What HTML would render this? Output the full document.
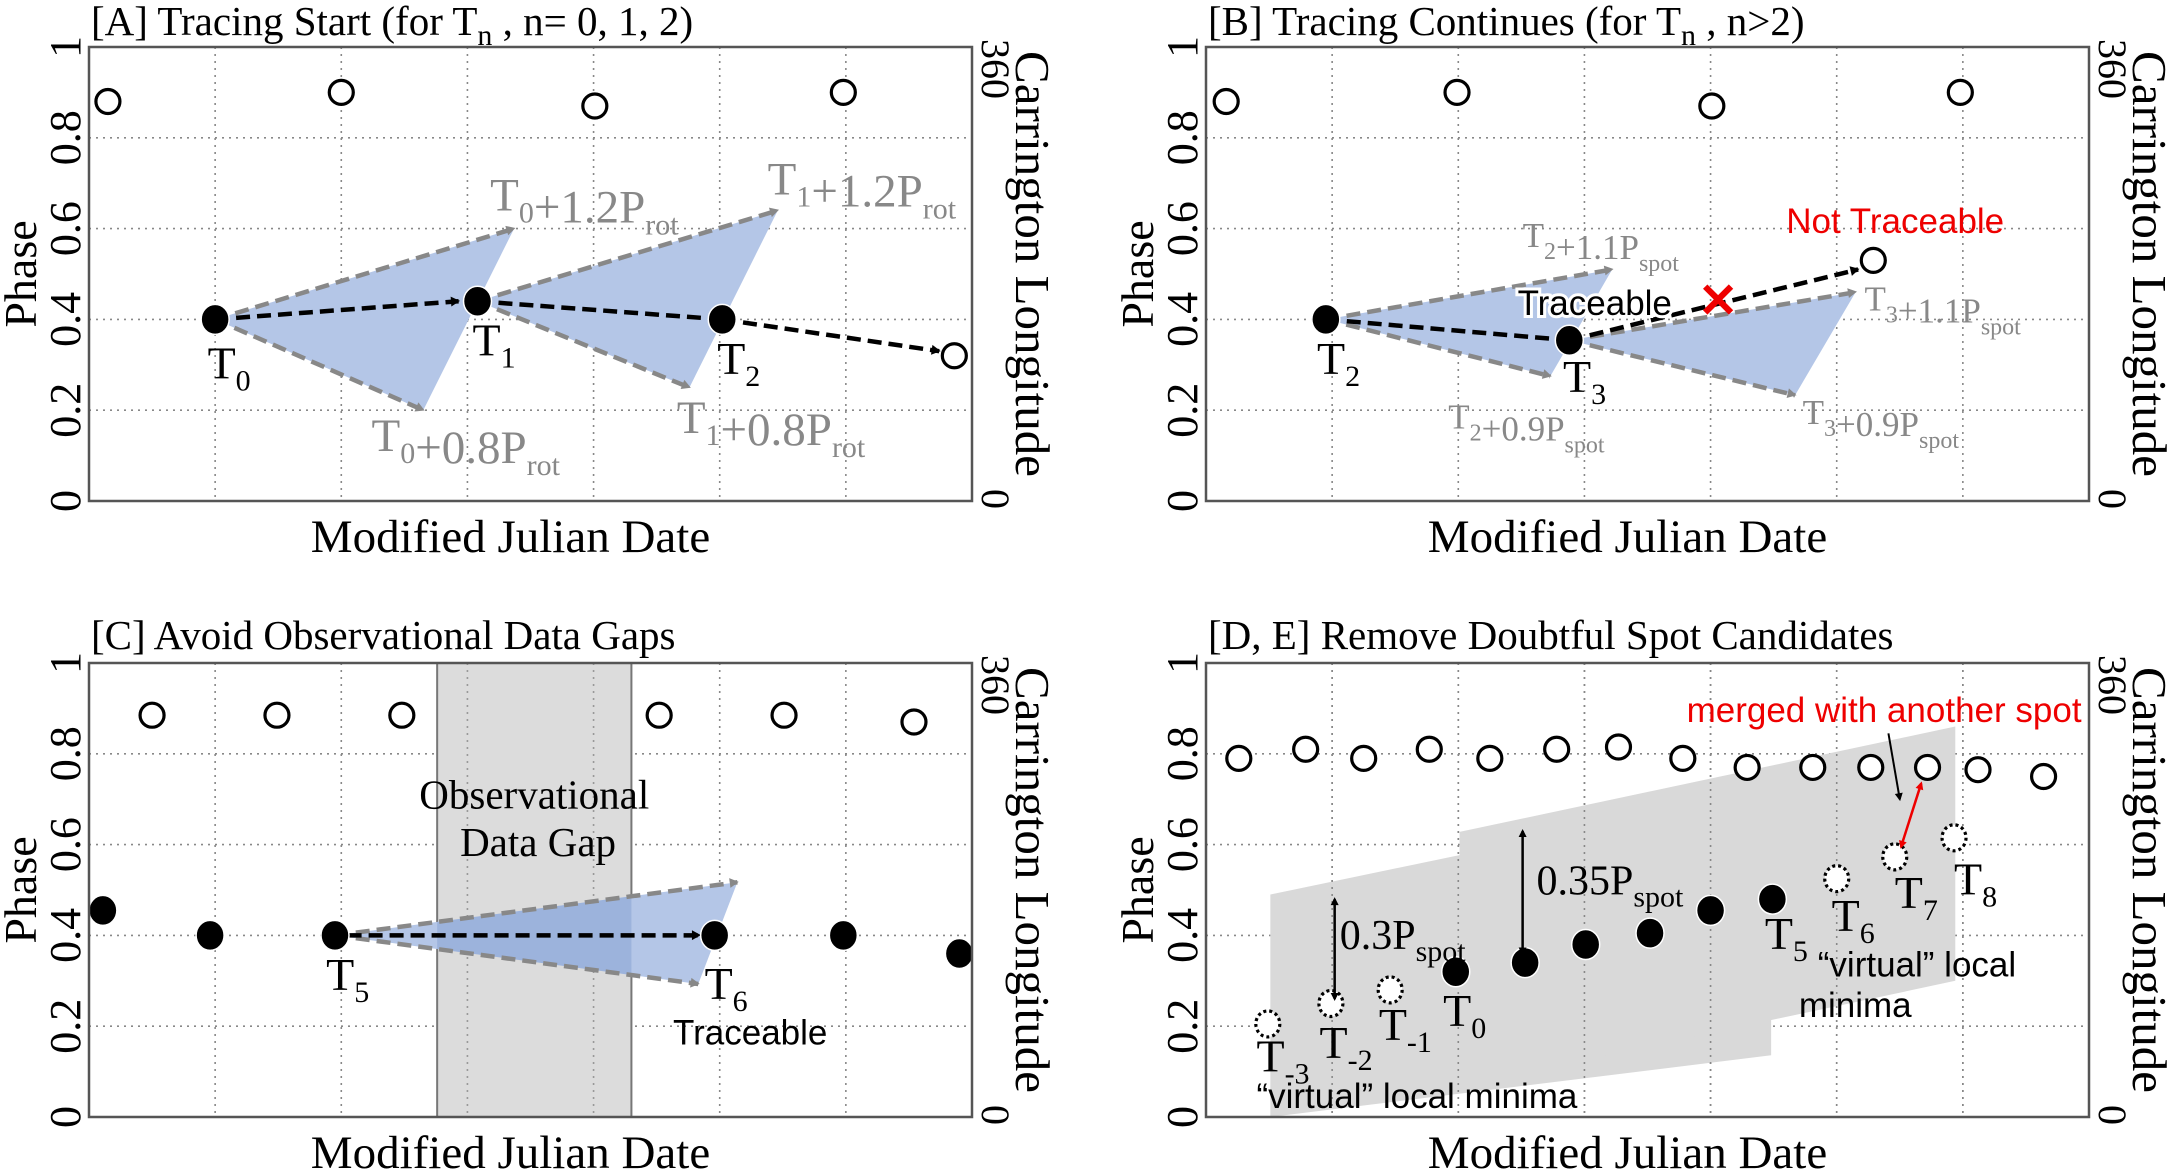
<!DOCTYPE html>
<html><head><meta charset="utf-8"><style>
html,body{margin:0;padding:0;background:#fff;}
svg{display:block;font-family:"Liberation Serif",serif;}
.sans{font-family:"Liberation Sans",sans-serif;}
</style></head><body>
<svg id="fig" width="2170" height="1175" viewBox="0 0 2170 1175" xmlns="http://www.w3.org/2000/svg">
<defs>
<marker id="ag" viewBox="0 0 10 10" refX="8" refY="5" markerWidth="5" markerHeight="5" orient="auto" markerUnits="userSpaceOnUse" style="overflow:visible"><path d="M-8,-6 L12,5 L-8,16 Z" fill="#888" transform="scale(0.9)"/></marker>
<marker id="ak" viewBox="0 0 10 10" refX="8" refY="5" markerWidth="5" markerHeight="5" orient="auto" markerUnits="userSpaceOnUse" style="overflow:visible"><path d="M-8,-6 L12,5 L-8,16 Z" fill="#000" transform="scale(0.9)"/></marker>
<marker id="ak2" viewBox="0 0 10 10" refX="8" refY="5" markerWidth="5" markerHeight="5" orient="auto-start-reverse" markerUnits="userSpaceOnUse" style="overflow:visible"><path d="M-4,-3 L12,5 L-4,13 Z" fill="#000"/></marker>
<marker id="ar2" viewBox="0 0 10 10" refX="8" refY="5" markerWidth="5" markerHeight="5" orient="auto-start-reverse" markerUnits="userSpaceOnUse" style="overflow:visible"><path d="M-4,-3 L12,5 L-4,13 Z" fill="#e00"/></marker>
</defs>
</svg>
<script>
// ---- data (x in grid units 0..7, y in phase 0..1) ----
const yTicks = [0, 0.2, 0.4, 0.6, 0.8, 1];
const yTickLabels = ["0", "0.2", "0.4", "0.6", "0.8", "1"];
const rightTickLabels = ["0", "360"];
const xGrid = [1, 2, 3, 4, 5, 6];

const aOpenX = [0.15, 2.0, 4.01, 5.98, 6.86];
const aOpenY = [0.88, 0.90, 0.87, 0.90, 0.32];
const aFilledX = [1.0, 3.08, 5.02];
const aFilledY = [0.40, 0.44, 0.40];
const aTri1 = [[1.0,0.40],[3.37,0.60],[2.65,0.20]];
const aTri2 = [[3.08,0.44],[5.46,0.64],[4.76,0.25]];

const bOpenX = [0.16, 1.99, 4.01, 5.98, 5.29];
const bOpenY = [0.88, 0.90, 0.87, 0.90, 0.53];
const bFilledX = [0.95, 2.88];
const bFilledY = [0.40, 0.354];
const bTri1 = [[0.95,0.40],[3.22,0.51],[2.73,0.275]];
const bTri2 = [[2.88,0.354],[5.15,0.46],[4.67,0.233]];

const cOpenX = [0.5, 1.49, 2.48, 4.52, 5.51, 6.54];
const cOpenY = [0.885, 0.885, 0.885, 0.885, 0.885, 0.87];
const cFilledX = [0.11, 0.96, 1.95, 4.96, 5.98, 6.9];
const cFilledY = [0.455, 0.40, 0.40, 0.40, 0.40, 0.36];
const cTri = [[1.95,0.40],[5.14,0.517],[4.83,0.293]];
const cGap = [2.76, 4.3];

const dOpenX = [0.26,0.79,1.25,1.77,2.25,2.78,3.27,3.78,4.29,4.81,5.27,5.72,6.12,6.64];
const dOpenY = [0.79,0.81,0.79,0.81,0.79,0.81,0.815,0.79,0.77,0.77,0.77,0.77,0.765,0.75];
const dFilledX = [1.98,2.53,3.01,3.52,4.0,4.49];
const dFilledY = [0.32,0.34,0.38,0.405,0.455,0.48];
const dVirtX = [0.49,0.99,1.46,5.0,5.46,5.93];
const dVirtY = [0.205,0.25,0.28,0.525,0.573,0.615];
const dPoly1 = [[0.51,0.49],[4.48,0.72],[4.48,0.136],[0.51,0]];
const dPoly2 = [[2.01,0.628],[5.94,0.86],[5.94,0.30],[2.01,0.067]];

// ---- helpers ----
const NS = "http://www.w3.org/2000/svg";
const svg = document.getElementById('fig');
function mk(tag, attrs, parent){const e=document.createElementNS(NS,tag);for(const k in attrs)e.setAttribute(k,attrs[k]);(parent||svg).appendChild(e);return e;}
const W=883, H=454;
function panel(px,py,name){
  const g=mk('g',{transform:`translate(${px},${py})`});
  
  
  const sx=v=>v/7*W, sy=v=>H-v*H;
  return {g,sx,sy};
}
function frame(P,title,tx,ty){
  const {g,sx,sy}=P;
  xGrid.forEach(v=>{const l=mk('line',{x1:sx(v),x2:sx(v),y1:0,y2:H,stroke:'#888','stroke-width':1.6,'stroke-dasharray':'2 5'},g);
    
    });
  yTicks.slice(1,5).forEach(v=>{const l=mk('line',{x1:0,x2:W,y1:sy(v),y2:sy(v),stroke:'#888','stroke-width':1.6,'stroke-dasharray':'2 5'},g);
    
    });
  yTicks.forEach((v,i)=>{const t=mk('text',{x:0,y:0,transform:`translate(-9,${sy(v)}) rotate(-90)`,'text-anchor':'middle','font-size':44},g);t.textContent=yTickLabels[i];
    
    });
  [0,1].forEach(i=>{
    const t=mk('text',{transform:`translate(${W+10},${i==1?-8:sy(0)-12}) rotate(90)`,'text-anchor':'start','font-size':40},g);t.textContent=rightTickLabels[i];
    
    });
  let t=mk('text',{transform:`translate(-53,${H/2}) rotate(-90)`,'text-anchor':'middle','font-size':46},g);t.textContent='Phase';
  
  
  t=mk('text',{transform:`translate(${W+44},${H/2-10}) rotate(90)`,'text-anchor':'middle','font-size':49},g);t.textContent='Carrington Longitude';
  
  
  t=mk('text',{x:W/2-20,y:H+51,'text-anchor':'middle','font-size':47},g);t.textContent='Modified Julian Date';
  
  
  t=mk('text',{x:tx,y:ty,'font-size':41},g);t.innerHTML=title;
  
  
}
function box(P){const r=mk('rect',{x:0,y:0,width:W,height:H,fill:'none',stroke:'#555','stroke-width':2.5},P.g);
  
  }
function tri(P,pts,fill){const {g,sx,sy}=P;
  const p=mk('polygon',{points:pts.map(q=>sx(q[0])+','+sy(q[1])).join(' '),fill:fill||'#b4c6e7'},g);
  
  
  [1,2].forEach(i=>{const l=mk('line',{x1:sx(pts[0][0]),y1:sy(pts[0][1]),x2:sx(pts[i][0]),y2:sy(pts[i][1]),stroke:'#888','stroke-width':4.5,'stroke-dasharray':'14 7','marker-end':'url(#ag)'},g);
    
    });}
function arrow(P,x1,y1,x2,y2,name){const {g,sx,sy}=P;
  const l=mk('line',{x1:sx(x1),y1:sy(y1),x2:sx(x2),y2:sy(y2),stroke:'#000','stroke-width':4.5,'stroke-dasharray':'14 7','marker-end':'url(#ak)'},g);
  
  }
function line(P,x1,y1,x2,y2){const {g,sx,sy}=P;
  const l=mk('line',{x1:sx(x1),y1:sy(y1),x2:sx(x2),y2:sy(y2),stroke:'#000','stroke-width':4.5,'stroke-dasharray':'14 7'},g);
  
  }
function pts(P,xs,ys,kind){const {g,sx,sy}=P;
  xs.forEach((x,i)=>{let c;
    if(kind=='open'){c=mk('ellipse',{cx:sx(x),cy:sy(ys[i]),rx:12,ry:12,fill:'#fff',stroke:'#000','stroke-width':3.2},g);
      }
    else if(kind=='filled'){c=mk('ellipse',{cx:sx(x),cy:sy(ys[i]),rx:14,ry:15,fill:'#000',stroke:'#fff','stroke-width':1.5},g);
      }
    else {c=mk('ellipse',{cx:sx(x),cy:sy(ys[i]),rx:12,ry:13,fill:'#fff',stroke:'#000','stroke-width':3.2,'stroke-dasharray':'3 3'},g);
      }
    });}
function label(P,x,y,html,size,color,cls,name){const {g,sx,sy}=P;
  const t=mk('text',{x:sx(x),y:sy(y),'font-size':size,fill:color||'#000'},g);
  if(cls)t.setAttribute('class',cls);
  t.innerHTML=html;
  
  return t;}
const sub=(s,sz)=>`<tspan dy="12" font-size="${sz||30}">${s}</tspan><tspan dy="-12"></tspan>`;
const T=(n)=>`T${sub(n)}`;

// ---- Panel A ----
const A=panel(89,47,'panel-a');
frame(A,`[A] Tracing Start (for T<tspan dy="10" font-size="30">n</tspan><tspan dy="-10"> , n= 0, 1, 2)</tspan>`,2,-12);
tri(A,aTri1);tri(A,aTri2);
arrow(A,aFilledX[0],aFilledY[0],aFilledX[1]-0.15,aFilledY[1],'trace-arrow');
line(A,aFilledX[1],aFilledY[1],aFilledX[2],aFilledY[2]);
arrow(A,aFilledX[2],aFilledY[2],aOpenX[4]-0.12,aOpenY[4]+0.01,'trace-arrow');
pts(A,aOpenX,aOpenY,'open');pts(A,aFilledX,aFilledY,'filled');
label(A,0.94,0.27,T('0'),46);label(A,3.04,0.32,T('1'),46);label(A,4.98,0.28,T('2'),46);
label(A,3.18,0.64,`T${sub('0')}+1.2P${sub('rot')}`,47,'#888');
label(A,5.38,0.675,`T${sub('1')}+1.2P${sub('rot')}`,47,'#888');
label(A,2.24,0.11,`T${sub('0')}+0.8P${sub('rot')}`,47,'#888');
label(A,4.66,0.15,`T${sub('1')}+0.8P${sub('rot')}`,47,'#888');
box(A);

// ---- Panel B ----
const B=panel(1206,47,'panel-b');
frame(B,`[B] Tracing Continues (for T<tspan dy="10" font-size="30">n</tspan><tspan dy="-10"> , n&gt;2)</tspan>`,2,-12);
tri(B,bTri1);tri(B,bTri2);
line(B,bFilledX[0],bFilledY[0],bFilledX[1],bFilledY[1]);
arrow(B,bFilledX[1],bFilledY[1],bOpenX[4]-0.12,bOpenY[4]-0.02,'not-traceable-arrow');
pts(B,bOpenX,bOpenY,'open');pts(B,bFilledX,bFilledY,'filled');
label(B,0.88,0.28,T('2'),46);label(B,2.83,0.24,T('3'),46);
label(B,2.51,0.56,`T${sub('2',24)}+1.1P${sub('spot',24)}`,35,'#888');
label(B,1.92,0.16,`T${sub('2',24)}+0.9P${sub('spot',24)}`,35,'#888');
label(B,5.22,0.42,`T${sub('3',24)}+1.1P${sub('spot',24)}`,35,'#888');
label(B,4.73,0.17,`T${sub('3',24)}+0.9P${sub('spot',24)}`,35,'#888');
let tt=label(B,2.47,0.41,'Traceable',35,'#000','sans','traceable-label');
tt.setAttribute('stroke','#fff');tt.setAttribute('stroke-width','6');tt.setAttribute('paint-order','stroke');
label(B,4.6,0.59,'Not Traceable',35,'#e00','sans','not-traceable-label');
label(B,3.9,0.405,'✕',48,'#e00','sans','reject-mark').setAttribute('font-weight','bold');
box(B);

// ---- Panel C ----
const C=panel(89,663,'panel-c');
frame(C,'[C] Avoid Observational Data Gaps',2,-14);
{const r=mk('rect',{x:C.sx(cGap[0]),y:0,width:C.sx(cGap[1])-C.sx(cGap[0]),height:H,fill:'#dcdcdc',stroke:'#777','stroke-width':2},C.g);
 
 
 xGrid.filter(v=>v>cGap[0]&&v<cGap[1]).forEach(v=>{const l=mk('line',{x1:C.sx(v),x2:C.sx(v),y1:0,y2:H,stroke:'#999','stroke-width':1.6,'stroke-dasharray':'2 5'},C.g);
  
  });}
{const p=mk('polygon',{points:cTri.map(q=>C.sx(q[0])+','+C.sy(q[1])).join(' '),fill:'#b4c6e7'},C.g);
 
 
 const p2=mk('polygon',{points:cTri.map(q=>C.sx(q[0])+','+C.sy(q[1])).join(' '),fill:'#6f8fc9','fill-opacity':0.35,'clip-path':'url(#gapclip)'},C.g);
 
 
 const cp=mk('clipPath',{id:'gapclip'},svg.querySelector('defs'));
 mk('rect',{x:C.sx(cGap[0]),y:0,width:C.sx(cGap[1])-C.sx(cGap[0]),height:H},cp);
 [1,2].forEach(i=>{const l=mk('line',{x1:C.sx(cTri[0][0]),y1:C.sy(cTri[0][1]),x2:C.sx(cTri[i][0]),y2:C.sy(cTri[i][1]),stroke:'#888','stroke-width':4.5,'stroke-dasharray':'14 7','marker-end':'url(#ag)'},C.g);
  
  });}
arrow(C,cFilledX[2]+0.1,cFilledY[2],cFilledX[3]-0.12,cFilledY[3],'trace-arrow');
pts(C,cOpenX,cOpenY,'open');pts(C,cFilledX,cFilledY,'filled');
label(C,3.53,0.68,'Observational',41,'#000','','gap-label').setAttribute('text-anchor','middle');
label(C,3.56,0.575,'Data Gap',41,'#000','','gap-label').setAttribute('text-anchor','middle');
label(C,1.88,0.28,T('5'),46);label(C,4.88,0.26,T('6'),46);
label(C,4.63,0.16,'Traceable',35,'#000','sans','traceable-label');
box(C);

// ---- Panel D ----
const D=panel(1206,663,'panel-d');
frame(D,'[D, E] Remove Doubtful Spot Candidates',2,-14);
[dPoly1,dPoly2].forEach(pl=>{const p=mk('polygon',{points:pl.map(q=>D.sx(q[0])+','+D.sy(q[1])).join(' '),fill:'#d9d9d9'},D.g);
  
  });
xGrid.forEach(v=>{const l=mk('line',{x1:D.sx(v),x2:D.sx(v),y1:0,y2:H,stroke:'#888','stroke-width':1.6,'stroke-dasharray':'2 5'},D.g);
  
  });
pts(D,dOpenX,dOpenY,'open');pts(D,dFilledX,dFilledY,'filled');pts(D,dVirtX,dVirtY,'virtual');
{const mkA=(x1,y1,x2,y2,m,c,name)=>{const l=mk('line',{x1:D.sx(x1),y1:D.sy(y1),x2:D.sx(x2),y2:D.sy(y2),stroke:c,'stroke-width':2.5,'marker-end':`url(#${m})`,'marker-start':`url(#${m})`},D.g);
  
  };
 mkA(1.02,0.48,1.02,0.26,'ak2','#000','tolerance-0.3');
 mkA(2.51,0.63,2.51,0.36,'ak2','#000','tolerance-0.35');
 mkA(5.51,0.595,5.67,0.735,'ar2','#e00','merge-arrow');
 const l=mk('line',{x1:D.sx(5.41),y1:D.sy(0.845),x2:D.sx(5.5),y2:D.sy(0.70),stroke:'#000','stroke-width':2,'marker-end':'url(#ak2)'},D.g);
 
 }
label(D,1.06,0.37,`0.3P${sub('spot')}`,42,'#000','','tolerance-label');
label(D,2.62,0.49,`0.35P${sub('spot')}`,42,'#000','','tolerance-label');
label(D,0.4,0.10,T('-3'),46);label(D,0.9,0.13,T('-2'),46);label(D,1.37,0.17,T('-1'),46);label(D,1.88,0.20,T('0'),46);
label(D,4.43,0.37,T('5'),46);label(D,4.96,0.41,T('6'),46);label(D,5.46,0.46,T('7'),46);label(D,5.93,0.49,T('8'),46);
label(D,0.4,0.02,'“virtual” local minima',35,'#000','sans','virtual-minima-label');
label(D,4.85,0.31,'“virtual” local',35,'#000','sans','virtual-minima-label');
label(D,4.7,0.22,'minima',35,'#000','sans','virtual-minima-label');
label(D,3.81,0.87,'merged with another spot',35,'#e00','sans','merged-label');
box(D);
</script>
</body></html>
